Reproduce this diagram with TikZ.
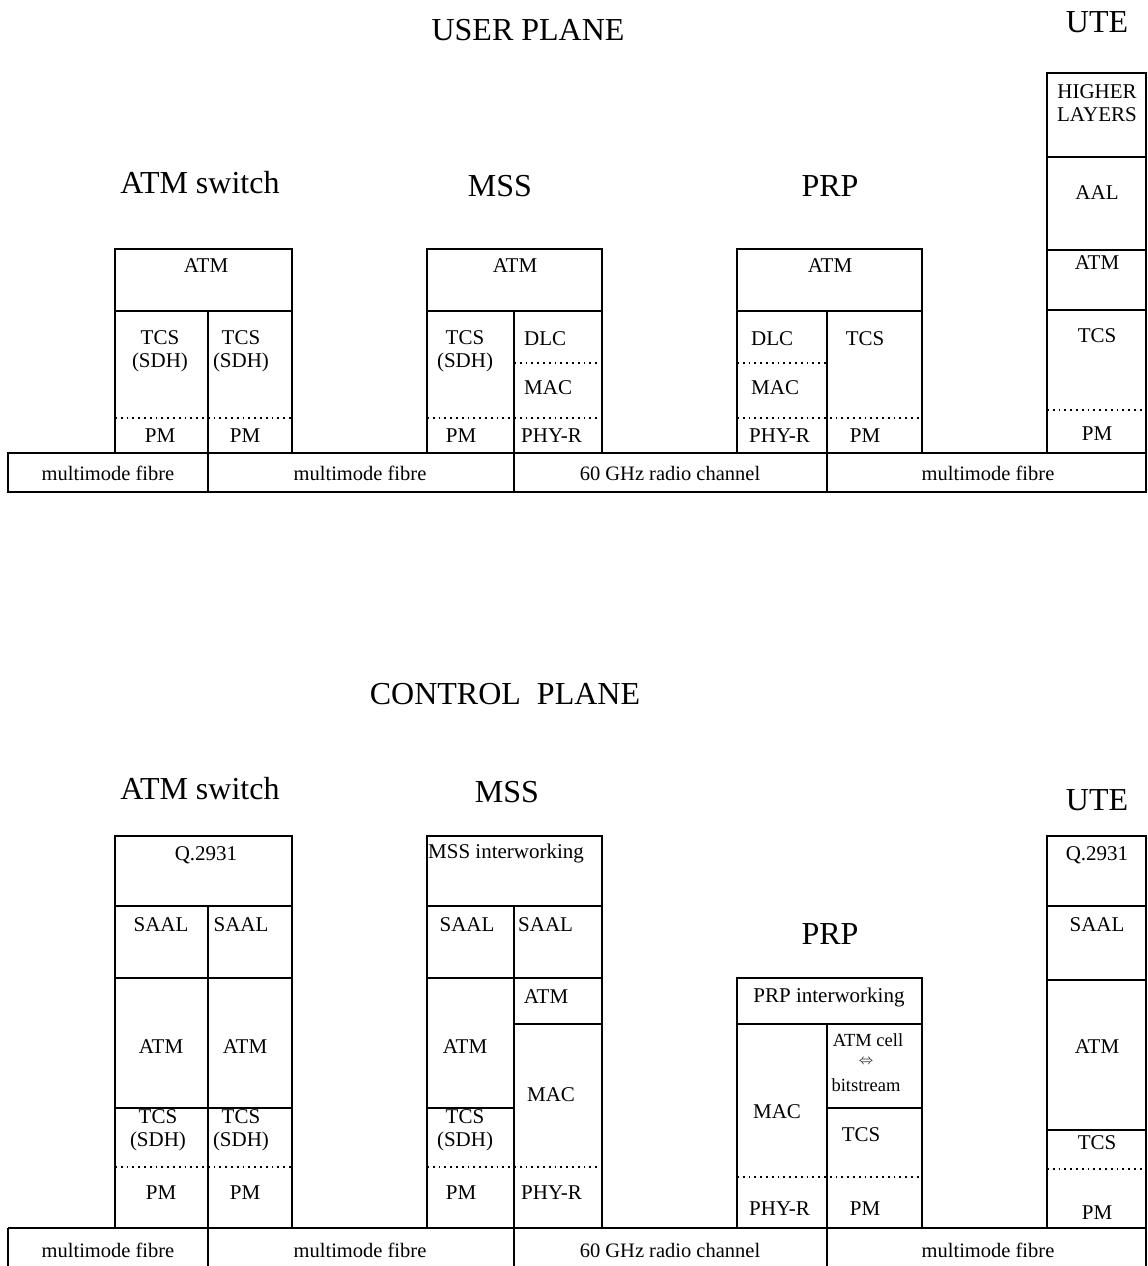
\documentclass[tikz,border=0pt]{standalone}
\usepackage{fontspec}
\setmainfont{Liberation Serif}
\begin{document}
\begin{tikzpicture}[x=1pt,y=-1pt,
  box/.style={line width=2.4pt},
  dotline/.style={line width=1.8pt,dash pattern=on 1.8pt off 4pt},
  lbl/.style={inner sep=0pt,font=\fontsize{21}{23}\selectfont,align=center},
  fib/.style={inner sep=0pt,font=\fontsize{20.5}{22}\selectfont},
  ttl/.style={inner sep=0pt,font=\fontsize{32}{36}\selectfont},
  plane/.style={inner sep=0pt,font=\fontsize{32}{36}\selectfont}]
\useasboundingbox (0,0) rectangle (1148,1266);
% ================= USER PLANE =================
\node[plane] (tu) at (528,30) {USER PLANE};
\node[ttl] (uteu) at (1097,22) {UTE};
\node[ttl] (swu) at (200,183) {ATM switch};
\node[ttl] (mssu) at (500,186) {MSS};
\node[ttl] (prpu) at (830,186) {PRP};
% ATM switch
\draw[box] (115,249) rectangle (292,453);
\draw[box] (115,311) -- (292,311);
\draw[box] (208,311) -- (208,453);
\draw[dotline] (115,418) -- (292,418);
\node[lbl] (u1) at (206,266) {ATM};
\node[lbl] (u2) at (160,351) {TCS\\(SDH)};
\node[lbl] (u3) at (241,351) {TCS\\(SDH)};
\node[lbl] (u4) at (160,436) {PM};
\node[lbl] (u5) at (245,436) {PM};
% MSS
\draw[box] (427,249) rectangle (602,453);
\draw[box] (427,311) -- (602,311);
\draw[box] (514,311) -- (514,453);
\draw[dotline] (514,363) -- (602,363);
\draw[dotline] (427,418) -- (602,418);
\node[lbl] (u6) at (515,266) {ATM};
\node[lbl] (u7) at (465,351) {TCS\\(SDH)};
\node[lbl,anchor=west] (u8) at (524,339) {DLC};
\node[lbl,anchor=west] (u9) at (524,388) {MAC};
\node[lbl,anchor=west] (u10) at (521,436) {PHY-R};
\node[lbl] (u11) at (461,436) {PM};
% PRP
\draw[box] (737,249) rectangle (922,453);
\draw[box] (737,311) -- (922,311);
\draw[box] (827,311) -- (827,453);
\draw[dotline] (737,363) -- (827,363);
\draw[dotline] (737,418) -- (922,418);
\node[lbl] (u12) at (830,266) {ATM};
\node[lbl,anchor=west] (u13) at (751,339) {DLC};
\node[lbl,anchor=west] (u14) at (751,388) {MAC};
\node[lbl,anchor=west] (u15) at (749,436) {PHY-R};
\node[lbl] (u16) at (865,339) {TCS};
\node[lbl] (u17) at (865,436) {PM};
% UTE
\draw[box] (1047,73) rectangle (1146,453);
\draw[box] (1047,157) -- (1146,157);
\draw[box] (1047,250) -- (1146,250);
\draw[box] (1047,310) -- (1146,310);
\draw[dotline] (1047,410) -- (1146,410);
\node[lbl] (u18) at (1097,103) {HIGHER\\LAYERS};
\node[lbl] (u19) at (1097,193) {AAL};
\node[lbl] (u20) at (1097,263) {ATM};
\node[lbl] (u21) at (1097,336) {TCS};
\node[lbl] (u22) at (1097,434) {PM};
% fibre bar
\draw[box] (8,453) rectangle (1146,492);
\draw[box] (208,453) -- (208,492);
\draw[box] (514,453) -- (514,492);
\draw[box] (827,453) -- (827,492);
\node[fib] (f1) at (108,473) {multimode fibre};
\node[fib] (f2) at (360,473) {multimode fibre};
\node[fib] (f3) at (670,473) {60 GHz radio channel};
\node[fib] (f4) at (988,473) {multimode fibre};
% ================= CONTROL PLANE =================
\node[plane] (tc) at (505,694) {CONTROL\ \ PLANE};
\node[ttl] (swc) at (200,789) {ATM switch};
\node[ttl] (mssc) at (507,792) {MSS};
\node[ttl] (utec) at (1097,800) {UTE};
\node[ttl] (prpc) at (830,934) {PRP};
% ATM switch
\draw[box] (115,836) rectangle (292,1228);
\draw[box] (115,906) -- (292,906);
\draw[box] (115,978) -- (292,978);
\draw[box] (115,1108) -- (292,1108);
\draw[box] (208,906) -- (208,1228);
\draw[dotline] (115,1167) -- (292,1167);
\node[lbl] (c1) at (206,855) {Q.2931};
\node[lbl] (c2) at (161,925) {SAAL};
\node[lbl] (c3) at (241,925) {SAAL};
\node[lbl] (c4) at (161,1047) {ATM};
\node[lbl] (c5) at (245,1047) {ATM};
\node[lbl] (c6) at (158,1130) {TCS\\(SDH)};
\node[lbl] (c7) at (241,1130) {TCS\\(SDH)};
\node[lbl] (c8) at (161,1193) {PM};
\node[lbl] (c9) at (245,1193) {PM};
% MSS
\draw[box] (427,836) rectangle (602,1228);
\draw[box] (427,906) -- (602,906);
\draw[box] (427,978) -- (602,978);
\draw[box] (514,906) -- (514,1228);
\draw[box] (514,1024) -- (602,1024);
\draw[box] (427,1108) -- (514,1108);
\draw[dotline] (427,1167) -- (602,1167);
\node[lbl,anchor=west] (c10) at (428,853) {MSS interworking};
\node[lbl] (c11) at (467,925) {SAAL};
\node[lbl,anchor=west] (c12) at (518,925) {SAAL};
\node[lbl] (c13) at (546,997) {ATM};
\node[lbl] (c14) at (551,1095) {MAC};
\node[lbl] (c15) at (465,1047) {ATM};
\node[lbl] (c16) at (465,1130) {TCS\\(SDH)};
\node[lbl] (c17) at (461,1193) {PM};
\node[lbl,anchor=west] (c18) at (521,1193) {PHY-R};
% PRP
\draw[box] (737,978) rectangle (922,1228);
\draw[box] (737,1024) -- (922,1024);
\draw[box] (827,1024) -- (827,1228);
\draw[box] (827,1108) -- (922,1108);
\draw[dotline] (737,1177) -- (922,1177);
\node[lbl] (c19) at (829,997) {PRP interworking};
\node[lbl] (c20) at (777,1112) {MAC};
\node[lbl,anchor=west] (c21) at (749,1209) {PHY-R};
\node[inner sep=0pt,font=\fontsize{18.5}{20}\selectfont] (c22a) at (868,1040) {ATM cell};
\node[inner sep=0pt,font=\fontsize{15}{16}\selectfont] (c22b) at (866,1062) {$\Leftrightarrow$};
\node[inner sep=0pt,font=\fontsize{18.5}{20}\selectfont] (c22c) at (866,1085) {bitstream};
\node[lbl] (c23) at (861,1135) {TCS};
\node[lbl] (c24) at (865,1209) {PM};
% UTE
\draw[box] (1047,836) rectangle (1146,1228);
\draw[box] (1047,906) -- (1146,906);
\draw[box] (1047,980) -- (1146,980);
\draw[box] (1047,1130) -- (1146,1130);
\draw[dotline] (1047,1169) -- (1146,1169);
\node[lbl] (c25) at (1097,855) {Q.2931};
\node[lbl] (c26) at (1097,925) {SAAL};
\node[lbl] (c27) at (1097,1047) {ATM};
\node[lbl] (c28) at (1097,1143) {TCS};
\node[lbl] (c29) at (1097,1213) {PM};
% fibre bar
\draw[box] (8,1228) -- (1146,1228);
\draw[box] (8,1228) -- (8,1270);
\draw[box] (208,1228) -- (208,1270);
\draw[box] (514,1228) -- (514,1270);
\draw[box] (827,1228) -- (827,1270);
\draw[box] (1146,1228) -- (1146,1270);
\node[fib] (g1) at (108,1250) {multimode fibre};
\node[fib] (g2) at (360,1250) {multimode fibre};
\node[fib] (g3) at (670,1250) {60 GHz radio channel};
\node[fib] (g4) at (988,1250) {multimode fibre};
\end{tikzpicture}
\end{document}
